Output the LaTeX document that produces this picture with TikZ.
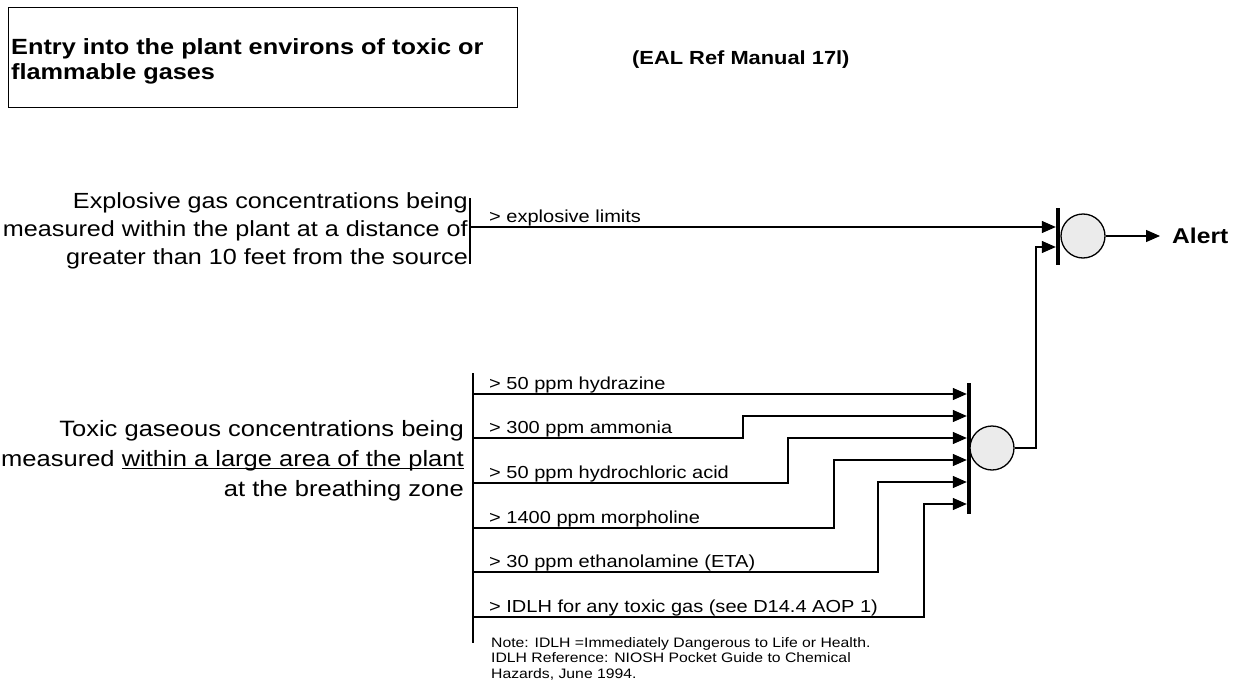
\documentclass[tikz,border=0pt]{standalone}
\usepackage{fontspec}
\setmainfont{Liberation Sans}
\newfontfamily\sfx[FakeStretch=1.15]{Liberation Sans}
\usetikzlibrary{arrows.meta}

% underline drawn a little below the baseline
\newcommand\undl[1]{\setbox0\hbox{#1}\rlap{\rule[-3.2pt]{\wd0}{1.2pt}}#1}

\tikzset{
  wire/.style={line width=1.3pt},
  feed/.style={wire,-{Triangle[length=14pt,width=12pt]}},
  gatebar/.style={fill=black,draw=none,minimum width=4pt,inner sep=0pt},
  gate/.style={circle,draw,line width=1.3pt,fill=black!8,minimum size=44pt,inner sep=0pt},
  cond/.style={font=\sfx\fontsize{22.2}{28}\selectfont,align=right,inner sep=0pt,anchor=north east},
  lbl/.style={font=\sfx\fontsize{17.4}{20}\selectfont,anchor=base west,inner sep=0pt},
  heading/.style={font=\sfx\bfseries\fontsize{22}{25.5}\selectfont,inner sep=0pt},
}

\begin{document}
\begin{tikzpicture}[x=1pt,y=-1pt]
\useasboundingbox (0,0) rectangle (1241,682);

% heading box and reference
\node[draw,line width=1.2pt,minimum width=509pt,minimum height=100pt,anchor=north west,inner sep=0pt] (titlebox) at (8,7) {};
\node[heading,align=left,anchor=north west] (title) at (11,38)
  {Entry into the plant environs of toxic or\\flammable gases};
\node[font=\sfx\bfseries\fontsize{19}{22}\selectfont,inner sep=0pt,anchor=base west] (ref) at (632,65) {(EAL Ref Manual 17l)};

% explosive gas condition
\node[cond,font=\sfx\fontsize{21.9}{28}\selectfont] (explo) at (468,192)
  {Explosive gas concentrations being\\measured within the plant at a distance of\\greater than 10 feet from the source};
\coordinate (ebtop) at (470,198);
\coordinate (ebbot) at (470,264);
\coordinate (eb) at (470,227);
\draw[wire] (ebtop) -- (ebbot);
\node[lbl] (lexp) at (489,222) {> explosive limits};

% toxic gas condition
\node[cond,font=\sfx\fontsize{22.2}{30}\selectfont] (toxic) at (464,420)
  {Toxic gaseous concentrations being\\measured \undl{within a large area of the plant}\\at the breathing zone};
\coordinate (tbtop) at (473,373);
\coordinate (tbbot) at (473,643);
\draw[wire] (tbtop) -- (tbbot);
\coordinate (s1) at (473,394);
\coordinate (s2) at (473,438);
\coordinate (s3) at (473,483);
\coordinate (s4) at (473,528);
\coordinate (s5) at (473,572);
\coordinate (s6) at (473,617);

\node[lbl] (l1) at (489,389) {> 50 ppm hydrazine};
\node[lbl] (l2) at (489,433) {> 300 ppm ammonia};
\node[lbl] (l3) at (489,478) {> 50 ppm hydrochloric acid};
\node[lbl] (l4) at (489,523) {> 1400 ppm morpholine};
\node[lbl] (l5) at (489,567) {> 30 ppm ethanolamine (ETA)};
\node[lbl] (l6) at (489,612) {> IDLH for any toxic gas (see D14.4 AOP 1)};

\node[font=\sfx\fontsize{13.7}{15.5}\selectfont,align=left,inner sep=0pt,anchor=north west] (note) at (491,637)
  {Note: IDLH =Immediately Dangerous to Life or Health.\\IDLH Reference: NIOSH Pocket Guide to Chemical\\Hazards, June 1994.};

% lower OR gate
\node[gatebar,minimum height=131pt] (lowbar) at (969,448.5) {};
\node[gate] (lowgate) at (992,448) {};

\draw[feed] (s1) -- (lowbar.west |- s1);
\draw[feed] (s2) -- (743,438) |- (lowbar.west |- 0,416);
\draw[feed] (s3) -- (788,483) |- (lowbar.west |- 0,438);
\draw[feed] (s4) -- (834,528) |- (lowbar.west |- 0,460);
\draw[feed] (s5) -- (878,572) |- (lowbar.west |- 0,482);
\draw[feed] (s6) -- (924,617) |- (lowbar.west |- 0,504);

% upper OR gate and result
\node[gatebar,minimum height=57pt] (topbar) at (1058,236.5) {};
\node[gate] (topgate) at (1083,236) {};
\node[font=\sfx\bfseries\fontsize{21.4}{24}\selectfont,inner sep=0pt,anchor=west] (alert) at (1172,236) {Alert};

\draw[feed] (eb) -- (topbar.west |- eb);
\draw[feed] (lowgate.east) -- (1036,448) |- (topbar.west |- 0,247);
\draw[feed] (topgate.east) -- ([xshift=-12pt]alert.west);

\end{tikzpicture}
\end{document}
